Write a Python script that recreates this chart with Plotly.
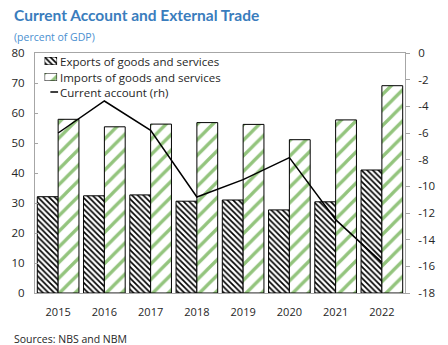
import plotly.graph_objects as go

# Data (percent of GDP)
years = ["2015", "2016", "2017", "2018", "2019", "2020", "2021", "2022"]
exports = [32.1, 32.4, 32.7, 30.6, 31.0, 27.7, 30.4, 41.0]
imports = [57.9, 55.4, 56.3, 56.8, 56.2, 51.1, 57.7, 69.1]
current_account = [-6.0, -3.6, -5.8, -10.8, -9.5, -7.85, -12.5, -15.7]

left_ticks = [0, 10, 20, 30, 40, 50, 60, 70, 80]
right_ticks = [0, -2, -4, -6, -8, -10, -12, -14, -16, -18]
right_ticktext = ["0", "-2", "-4", "-6", "-8", "-10", "-12", "-14", "-16", "-18"]

legend_labels = ["Exports of goods and services",
                 "Imports of goods and services",
                 "Current account (rh)"]

W, H = 448, 345
ML, MR, MT, MB = 30, 33, 53, 52
PW, PH = W - ML - MR, H - MT - MB


def px_x(p):
    return (p - ML) / PW


def px_y(p):
    return (H - MB - p) / PH


FONT = "Open Sans"
TXT = "#262626"
AXIS = "#a6a6a6"
GREEN = "#93c47d"

exp_pattern = dict(shape="\\", fgcolor="black", bgcolor="white",
                   size=4, solidity=0.42, fillmode="replace")
imp_pattern = dict(shape="/", fgcolor=GREEN, bgcolor="white",
                   size=11, solidity=0.3, fillmode="replace")

fig = go.Figure()

fig.add_trace(go.Bar(
    x=years, y=exports, name=legend_labels[0],
    marker=dict(color="white", pattern=exp_pattern,
                line=dict(color="black", width=1)),
    showlegend=False,
))
fig.add_trace(go.Bar(
    x=years, y=imports, name=legend_labels[1],
    marker=dict(color="white", pattern=imp_pattern,
                line=dict(color="black", width=1)),
    showlegend=False,
))
fig.add_trace(go.Scatter(
    x=years, y=current_account, name=legend_labels[2],
    mode="lines", line=dict(color="black", width=1.5),
    yaxis="y2", showlegend=False,
))

# Legend swatches drawn as single bars on small hidden axes
fig.add_trace(go.Bar(x=[0], y=[1], width=1, xaxis="x3", yaxis="y3",
                     marker=dict(color="white", pattern=exp_pattern,
                                 line=dict(color="black", width=1)),
                     showlegend=False, hoverinfo="skip"))
fig.add_trace(go.Bar(x=[0], y=[1], width=1, xaxis="x4", yaxis="y4",
                     marker=dict(color="white", pattern=imp_pattern,
                                 line=dict(color="black", width=1)),
                     showlegend=False, hoverinfo="skip"))

hidden = dict(visible=False, fixedrange=True)

fig.update_layout(
    width=W, height=H,
    margin=dict(l=ML, r=MR, t=MT, b=MB),
    paper_bgcolor="white", plot_bgcolor="white",
    font=dict(family=FONT, size=11, color=TXT),
    barmode="group", bargap=0.1, bargroupgap=0,
    showlegend=False,
    xaxis=dict(
        type="category", range=[-0.5, 7.5],
        showline=True, linecolor=AXIS, linewidth=1, mirror=True,
        showgrid=False, ticks="", tickfont=dict(size=11),
        ticklabelstandoff=9,
    ),
    yaxis=dict(
        range=[0, 80], tickvals=left_ticks,
        showline=True, linecolor=AXIS, linewidth=1,
        showgrid=False, zeroline=False,
        ticks="inside", ticklen=3, tickcolor=AXIS,
        tickfont=dict(size=11.5), ticklabelstandoff=7,
    ),
    yaxis2=dict(
        overlaying="y", side="right", range=[-18, 0],
        tickvals=right_ticks, ticktext=right_ticktext,
        showline=True, linecolor=AXIS, linewidth=1,
        showgrid=False, zeroline=False,
        ticks="outside", ticklen=4, tickcolor=AXIS,
        tickfont=dict(size=11.5), ticklabelstandoff=6,
    ),
    xaxis3=dict(domain=[px_x(40), px_x(53)], range=[-0.5, 0.5], anchor="y3", **hidden),
    yaxis3=dict(domain=[px_y(65), px_y(57)], range=[0, 1], anchor="x3", **hidden),
    xaxis4=dict(domain=[px_x(40), px_x(53)], range=[-0.5, 0.5], anchor="y4", **hidden),
    yaxis4=dict(domain=[px_y(81), px_y(73)], range=[0, 1], anchor="x4", **hidden),
)

# Legend line swatch
fig.add_shape(type="line", xref="paper", yref="paper",
              x0=px_x(46), x1=px_x(54), y0=px_y(92), y1=px_y(92),
              line=dict(color="black", width=1.5))

for label, yc in zip(legend_labels, [61, 77, 92]):
    fig.add_annotation(text=label, xref="paper", yref="paper",
                       x=px_x(54), y=px_y(yc), xanchor="left", yanchor="middle",
                       showarrow=False, font=dict(size=11.5, color=TXT))

# Title, subtitle, source
fig.add_annotation(text="<b>Current Account and External Trade</b>",
                   xref="paper", yref="paper", x=px_x(6), y=px_y(15),
                   xanchor="left", yanchor="middle", showarrow=False,
                   font=dict(family="Lato", size=15.5, color="#3a7dbd"))
fig.add_annotation(text="(percent of GDP)",
                   xref="paper", yref="paper", x=px_x(6), y=px_y(37),
                   xanchor="left", yanchor="middle", showarrow=False,
                   font=dict(size=10.5, color="#4a8fd0"))
fig.add_annotation(text="Sources: NBS and NBM",
                   xref="paper", yref="paper", x=px_x(6), y=px_y(339),
                   xanchor="left", yanchor="middle", showarrow=False,
                   font=dict(size=10.5, color=TXT))

fig.write_html("out.html")
